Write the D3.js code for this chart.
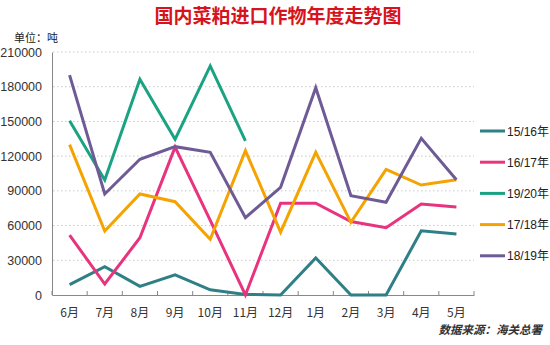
<!DOCTYPE html>
<html><head><meta charset="utf-8">
<script src="https://cdn.jsdelivr.net/npm/d3@7"></script>
<style>
html,body{margin:0;padding:0;background:#fff;}
svg{display:block;font-family:"Liberation Sans",Arial,"Noto Sans CJK SC",sans-serif;}
</style></head>
<body>
<svg id="chart" width="550" height="345"></svg>
<script>
const months = ["6月","7月","8月","9月","10月","11月","12月","1月","2月","3月","4月","5月"];
const yTicks = [0,30000,60000,90000,120000,150000,180000,210000];
const seriesNames = ["15/16年","16/17年","19/20年","17/18年","18/19年"];
const seriesColors = ["#2f7f86","#e8347f","#19a383","#f5a300","#6e5b96"];
const s1516 = [9000,24500,7500,17500,4500,500,0,32000,0,0,55500,52800];
const s1617 = [51800,9500,49500,127800,64500,0,79300,79300,63500,58200,78700,76000];
const s1920 = [150500,99400,186500,134500,198000,133200,null,null,null,null,null,null];
const s1718 = [130000,55300,87300,80600,48200,124700,54300,123300,62800,108600,95000,99600];
const s1819 = [190000,87300,117300,128200,123300,66800,93100,179100,85800,80100,135400,99600];
const seriesValues = [s1516,s1617,s1920,s1718,s1819];

const svg = d3.select("#chart");
const x = d3.scaleBand().domain(months).range([52,474]).padding(0);
const y = d3.scaleLinear().domain([0,210000]).range([295,52]);

// title
svg.append("text").attr("x",278).attr("y",23).attr("text-anchor","middle")
  .attr("font-family","'Noto Sans CJK SC',sans-serif").attr("font-weight","bold")
  .attr("font-size",19).attr("fill","#d7141e").text("国内菜粕进口作物年度走势图");
svg.append("text").attr("x",14).attr("y",42)
  .attr("font-family","'Noto Sans CJK SC',sans-serif").attr("font-size",11).attr("fill","#222").text("单位：吨");

// grid
svg.append("g").selectAll("line").data(yTicks.filter(d=>d>0)).join("line")
  .attr("x1",53).attr("x2",474).attr("y1",d=>y(d)).attr("y2",d=>y(d))
  .attr("stroke","#c8c8c8").attr("stroke-width",1).attr("stroke-dasharray","1.5,2.5");

// y axis
const yAxis = svg.append("g").attr("transform","translate(52,0)")
  .call(d3.axisLeft(y).tickValues(yTicks).tickSize(0).tickPadding(10).tickFormat(d3.format("d")));
yAxis.select(".domain").attr("stroke","#888");
yAxis.selectAll("text").attr("font-size",12.5).attr("fill","#333");

// x axis
const xAxis = svg.append("g").attr("transform","translate(0,295)")
  .call(d3.axisBottom(x).tickSize(0).tickPadding(13));
xAxis.select(".domain").attr("stroke","#888");
xAxis.selectAll("text").attr("font-size",12).attr("fill","#333")
  .attr("font-family","'Noto Sans CJK SC',sans-serif");
// tick marks at band boundaries
const bounds = months.map(m=>x(m)).concat([x(months[months.length-1])+x.bandwidth()]);
svg.append("g").selectAll("line").data(bounds).join("line")
  .attr("x1",d=>d).attr("x2",d=>d).attr("y1",291).attr("y2",295)
  .attr("stroke","#888");

// lines
const line = d3.line().defined(d=>d!=null)
  .x((d,i)=>x(months[i])+x.bandwidth()/2).y(d=>y(d));
seriesValues.forEach((vals,k)=>{
  svg.append("path").datum(vals).attr("d",line).attr("fill","none")
    .attr("stroke",seriesColors[k]).attr("stroke-width",3).attr("stroke-linejoin","miter");
});

// legend
const lg = svg.append("g");
seriesNames.forEach((n,k)=>{
  const yy = 131 + k*31.2;
  lg.append("line").attr("x1",480).attr("x2",505).attr("y1",yy).attr("y2",yy)
    .attr("stroke",seriesColors[k]).attr("stroke-width",3);
  lg.append("text").attr("x",507).attr("y",yy+4.5).attr("font-size",12).attr("fill","#222")
    .attr("font-family","'Liberation Sans','Noto Sans CJK SC',sans-serif").text(n);
});

// source
svg.append("text").attr("x",542).attr("y",334).attr("text-anchor","end")
  .attr("font-family","'Noto Sans CJK SC',sans-serif").attr("font-size",11.5)
  .attr("font-style","italic").attr("font-weight","bold").attr("fill","#333")
  .text("数据来源：海关总署");
</script>
</body></html>
